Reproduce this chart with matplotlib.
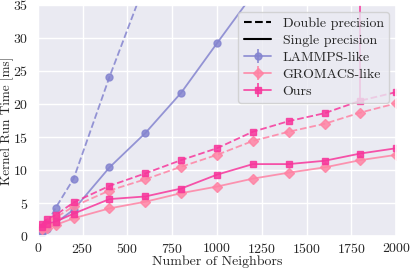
import matplotlib
matplotlib.use("Agg")
import matplotlib.pyplot as plt
import seaborn as sns
import numpy as np
from matplotlib.lines import Line2D

sns.set_theme(style="darkgrid")
plt.rcParams['font.family'] = ['cmr10', 'DejaVu Serif']
plt.rcParams['mathtext.fontset'] = 'cm'
plt.rcParams['axes.formatter.use_mathtext'] = True

neighbors = [25, 50, 100, 200, 400, 600, 800, 1000, 1200, 1400, 1600, 1800, 2000]

lammps_double = [0.8, 1.8, 4.3, 8.7, 24.1, 38.4]
lammps_single = [0.4, 1.0, 2.0, 4.0, 10.4, 15.6, 21.7, 29.2, 36.6]
gromacs_double = [1.3, 2.0, 2.8, 4.5, 6.9, 8.6, 10.5, 12.3, 14.4, 15.8, 17.0, 18.7, 20.1]
gromacs_single = [1.0, 1.3, 1.7, 2.7, 4.2, 5.2, 6.5, 7.5, 8.7, 9.6, 10.4, 11.5, 12.3]
ours_double = [1.8, 2.6, 3.2, 5.1, 7.6, 9.5, 11.5, 13.3, 15.8, 17.4, 18.6, 20.5, 21.8]
ours_single = [1.4, 1.9, 2.2, 3.4, 5.6, 6.0, 7.2, 9.3, 10.9, 10.9, 11.4, 12.5, 13.3]
ours_double_err_up = [0, 0, 0, 0, 0, 0, 0, 0, 0, 0, 0, 16, 0]

c_lammps = '#8484cf'
c_gromacs = '#ff83a4'
c_ours = '#f7369b'

fig = plt.figure(figsize=(4.11, 2.72), dpi=100)
ax = fig.add_axes([0.092, 0.132, 0.872, 0.85])

n = len(neighbors)
kw = dict(ms=5, lw=1.3, alpha=0.85)
ax.errorbar(neighbors[:len(lammps_double)], lammps_double, yerr=0, color=c_lammps, ls='--', marker='o', **kw)
ax.errorbar(neighbors[:len(lammps_single)], lammps_single, yerr=0, color=c_lammps, ls='-', marker='o', **kw)
ax.errorbar(neighbors, gromacs_double, yerr=0, color=c_gromacs, ls='--', marker='D', **kw)
ax.errorbar(neighbors, gromacs_single, yerr=0, color=c_gromacs, ls='-', marker='D', **kw)
ax.errorbar(neighbors, ours_double, yerr=[[0]*n, ours_double_err_up], color=c_ours, ls='--', marker='s', **kw)
ax.errorbar(neighbors, ours_single, yerr=0, color=c_ours, ls='-', marker='s', **kw)

ax.set_xlim(0, 2000)
ax.set_ylim(0, 35)
ax.set_xticks([0, 250, 500, 750, 1000, 1250, 1500, 1750, 2000])
ax.set_yticks([0, 5, 10, 15, 20, 25, 30, 35])
ax.tick_params(axis='x', labelsize=10, pad=-1.5)
ax.tick_params(axis='y', labelsize=10, pad=1)
ax.set_xlabel('Number of Neighbors', fontsize=10, labelpad=-1)
ax.set_ylabel('Kernel Run Time [ms]', fontsize=9.5, labelpad=-1)

handles = [Line2D([], [], color='black', ls='--', lw=1.5),
           Line2D([], [], color='black', ls='-', lw=1.5)]
labels = ['Double precision', 'Single precision', 'LAMMPS-like', 'GROMACS-like', 'Ours']
cont = [c for c in ax.containers]
handles += [cont[1], cont[3], cont[5]]
leg = ax.legend(handles, labels, loc='upper right', fontsize=10, framealpha=0.8,
                borderpad=0.4, labelspacing=0.3, handlelength=2.0, handletextpad=0.8)

fig.savefig('out.png', dpi=100)
